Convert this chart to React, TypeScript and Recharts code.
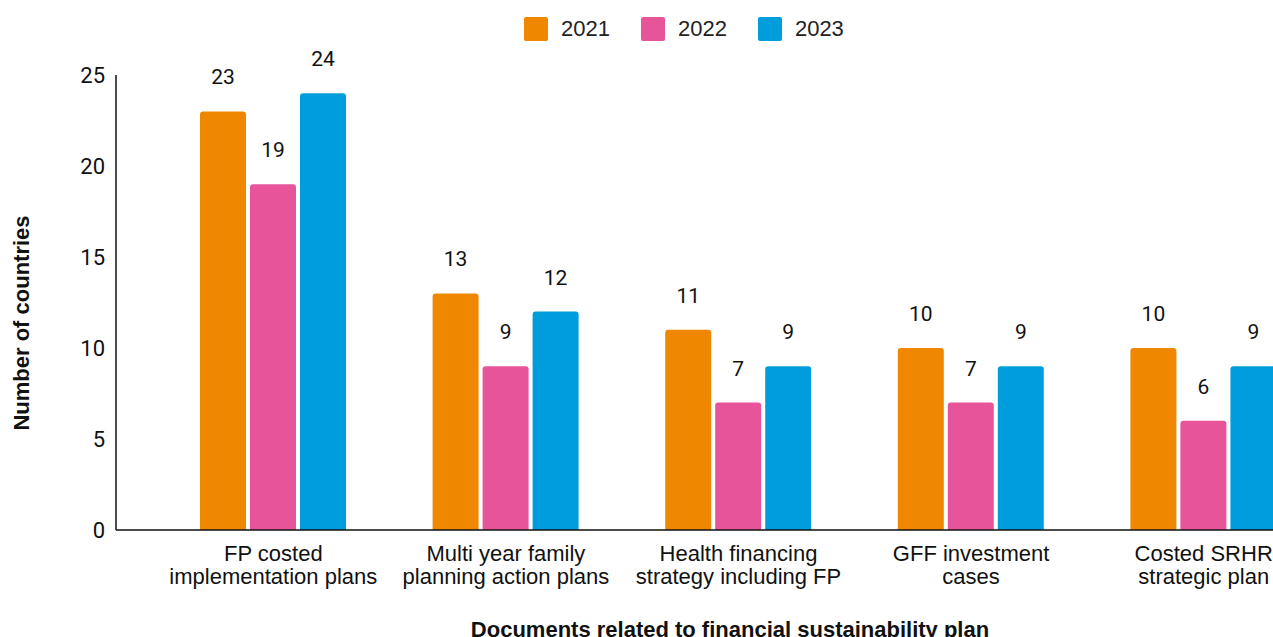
import React from 'react'
import { BarChart, Bar, XAxis, YAxis, LabelList } from 'recharts'

const categories = [
  'FP costed\nimplementation plans',
  'Multi year family\nplanning action plans',
  'Health financing\nstrategy including FP',
  'GFF investment\ncases',
  'Costed SRHR\nstrategic plan'
]
const values2021 = [23, 13, 11, 10, 10]
const values2022 = [19, 9, 7, 7, 6]
const values2023 = [24, 12, 9, 9, 9]
const yTicks = [0, 5, 10, 15, 20, 25]

const series = [
  { key: 'y2021', name: '2021', color: '#EF8700' },
  { key: 'y2022', name: '2022', color: '#E8549A' },
  { key: 'y2023', name: '2023', color: '#009DDC' }
]

const data = categories.map((name, i) => ({
  name,
  y2021: values2021[i],
  y2022: values2022[i],
  y2023: values2023[i]
}))

const sans = '"Liberation Sans", Arial, sans-serif'
const roboto = 'Roboto, sans-serif'

// two-line category labels under each group
const CategoryTick = ({ x, y, payload }: any) => {
  const lines = String(payload.value).split('\n')
  return (
    <text x={x} y={y} textAnchor="middle" fontFamily={sans} fontSize={22} fill="#111">
      {lines.map((line, i) => (
        <tspan key={i} x={x} dy={i === 0 ? 23 : 23}>{line}</tspan>
      ))}
    </text>
  )
}

export default function App() {
  return (
    <div style={{ position: 'absolute', left: 0, top: 0, width: 1273, height: 637, overflow: 'hidden', background: '#fff' }}>
      <div style={{ position: 'absolute', left: 524, top: 16, display: 'flex', alignItems: 'center', fontFamily: sans, fontSize: 22, color: '#222' }}>
        {series.map((s) => (
          <div key={s.key} style={{ display: 'flex', alignItems: 'center', marginRight: 31 }}>
            <span style={{ width: 24, height: 24, borderRadius: 2, background: s.color, display: 'inline-block', marginRight: 13 }} />
            <span>{s.name}</span>
          </div>
        ))}
      </div>
      <BarChart
        width={1330}
        height={660}
        data={data}
        margin={{ top: 75, right: 10, left: 0, bottom: 30 }}
        barSize={46}
        barGap={4}
      >
        <XAxis
          dataKey="name"
          interval={0}
          tick={<CategoryTick />}
          tickLine={false}
          axisLine={{ stroke: '#111', strokeWidth: 1.5 }}
          height={100}
          padding={{ left: 41, right: 0 }}
          label={{
            content: ({ viewBox }: any) => (
              <text x={730} y={viewBox.y + 107} textAnchor="middle" fontFamily={sans} fontWeight="bold" fontSize={22} fill="#111">
                Documents related to financial sustainability plan
              </text>
            )
          }}
        />
        <YAxis
          domain={[0, 25]}
          ticks={yTicks}
          width={116}
          tickLine={false}
          tickSize={0}
          tickMargin={11}
          axisLine={{ stroke: '#111', strokeWidth: 1.5 }}
          tick={{ fontFamily: roboto, fontSize: 22, fill: '#111' }}
          label={{
            content: () => (
              <text x={29} y={323} transform="rotate(-90 29 323)" textAnchor="middle" fontFamily={sans} fontWeight="bold" fontSize={22} fill="#111">
                Number of countries
              </text>
            )
          }}
        />
        {series.map((s) => (
          <Bar key={s.key} dataKey={s.key} name={s.name} fill={s.color} radius={[3, 3, 0, 0]} isAnimationActive={false}>
            <LabelList dataKey={s.key} position="top" offset={27} style={{ fontFamily: roboto, fontSize: 21, fill: '#111' }} />
          </Bar>
        ))}
      </BarChart>
    </div>
  )
}
